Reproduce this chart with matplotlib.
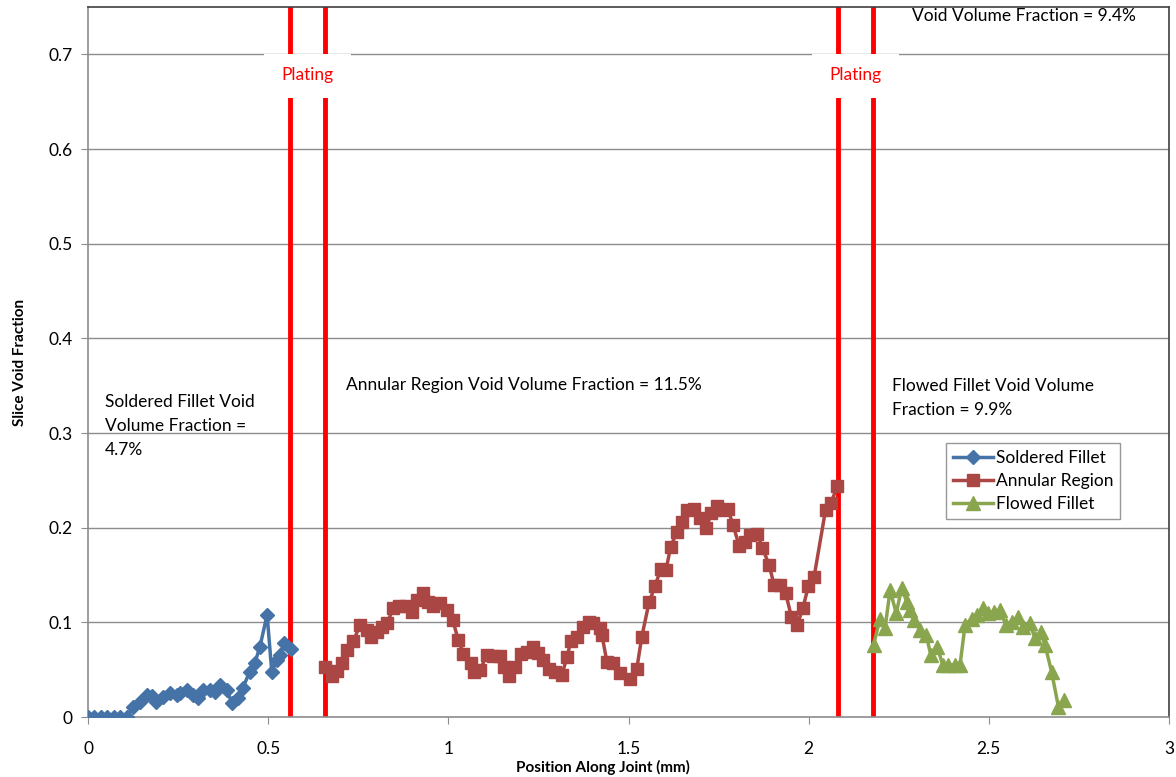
import matplotlib
matplotlib.use('Agg')
import matplotlib.pyplot as plt
from matplotlib.patches import Rectangle

# Soldered fillet series (blue diamonds)
soldered_x = [0.0, 0.018, 0.036, 0.054, 0.072, 0.09, 0.108, 0.125, 0.144, 0.163,
              0.177, 0.19, 0.208, 0.228, 0.246, 0.255, 0.274, 0.291, 0.305, 0.319,
              0.339, 0.352, 0.366, 0.386, 0.399, 0.416, 0.43, 0.449, 0.463, 0.477,
              0.497, 0.51, 0.524, 0.533, 0.544, 0.563]
soldered_y = [0.0, 0.0, 0.0, 0.0, 0.0, 0.0, 0.0, 0.011, 0.016, 0.023,
              0.022, 0.016, 0.021, 0.025, 0.023, 0.025, 0.028, 0.023, 0.02, 0.029,
              0.028, 0.026, 0.034, 0.028, 0.015, 0.02, 0.031, 0.048, 0.057, 0.074,
              0.108, 0.048, 0.06, 0.066, 0.078, 0.072]

# Annular region series (red squares)
annular_x = [0.658, 0.676, 0.692, 0.706, 0.72, 0.736, 0.755, 0.773, 0.785, 0.801,
             0.815, 0.831, 0.847, 0.864, 0.882, 0.898, 0.912, 0.931, 0.944, 0.958,
             0.977, 0.996, 1.012, 1.028, 1.042, 1.062, 1.071, 1.088, 1.107, 1.123,
             1.142, 1.155, 1.169, 1.185, 1.201, 1.217, 1.234, 1.25, 1.264, 1.278,
             1.296, 1.315, 1.329, 1.34, 1.356, 1.373, 1.389, 1.402, 1.421, 1.426,
             1.44, 1.456, 1.477, 1.504, 1.523, 1.537, 1.557, 1.574, 1.589, 1.604,
             1.617, 1.634, 1.648, 1.662, 1.682, 1.698, 1.715, 1.73, 1.746, 1.763,
             1.776, 1.79, 1.807, 1.823, 1.838, 1.858, 1.871, 1.89, 1.904, 1.921,
             1.936, 1.952, 1.968, 1.984, 1.999, 2.015, 2.047, 2.063, 2.079]
annular_y = [0.0525, 0.043, 0.049, 0.057, 0.071, 0.08, 0.097, 0.092, 0.085, 0.09,
             0.095, 0.0997, 0.115, 0.117, 0.117, 0.111, 0.124, 0.131, 0.122, 0.117,
             0.12, 0.113, 0.1025, 0.081, 0.067, 0.057, 0.048, 0.0497, 0.0655, 0.0645,
             0.064, 0.0525, 0.043, 0.053, 0.067, 0.069, 0.074, 0.068, 0.06, 0.051,
             0.048, 0.044, 0.063, 0.08, 0.085, 0.095, 0.1007, 0.099, 0.094, 0.087,
             0.0585, 0.057, 0.046, 0.04, 0.051, 0.085, 0.121, 0.1385, 0.156, 0.155,
             0.18, 0.195, 0.206, 0.219, 0.2195, 0.21, 0.1995, 0.215, 0.223, 0.219,
             0.2195, 0.203, 0.181, 0.185, 0.192, 0.193, 0.179, 0.161, 0.1395, 0.1395,
             0.131, 0.106, 0.097, 0.115, 0.138, 0.148, 0.219, 0.2265, 0.244]

# Flowed fillet series (green triangles)
flowed_x = [2.18, 2.198, 2.212, 2.226, 2.243, 2.258, 2.272, 2.281, 2.292, 2.309,
            2.326, 2.339, 2.357, 2.372, 2.388, 2.406, 2.42, 2.434, 2.453, 2.468,
            2.483, 2.497, 2.513, 2.532, 2.547, 2.563, 2.581, 2.595, 2.614, 2.628,
            2.644, 2.656, 2.674, 2.693, 2.709]
flowed_y = [0.076, 0.104, 0.094, 0.134, 0.1096, 0.136, 0.122, 0.113, 0.1025, 0.092,
            0.0867, 0.0655, 0.074, 0.055, 0.055, 0.055, 0.055, 0.097, 0.104, 0.108,
            0.115, 0.1096, 0.111, 0.113, 0.097, 0.1007, 0.106, 0.0955, 0.099, 0.083,
            0.09, 0.076, 0.048, 0.011, 0.018]

# Plating boundary lines
plating_lines = [0.561, 0.658, 2.082, 2.179]

x_ticks = [0, 0.5, 1, 1.5, 2, 2.5, 3]
x_tick_labels = ['0', '0.5', '1', '1.5', '2', '2.5', '3']
y_ticks = [0, 0.1, 0.2, 0.3, 0.4, 0.5, 0.6, 0.7]
y_tick_labels = ['0', '0.1', '0.2', '0.3', '0.4', '0.5', '0.6', '0.7']

plt.rcParams['font.family'] = ['Lato', 'DejaVu Sans']

fig = plt.figure(figsize=(11.76, 7.77), dpi=100)
ax = fig.add_axes([88 / 1176, 1 - 717 / 777, (1169 - 88) / 1176, (717 - 7) / 777])

ax.set_xlim(0, 3)
ax.set_ylim(0, 0.75)

# horizontal gridlines
for yv in y_ticks[1:]:
    ax.axhline(yv, color='#8c8c8c', lw=1.0, zorder=1)

# plating lines
for xv in plating_lines:
    ax.axvline(xv, color='#ff0000', lw=3.5, zorder=2)

# white label boxes over the plating lines
for left, right in [(plating_lines[0], plating_lines[1]), (plating_lines[2], plating_lines[3])]:
    cx = (left + right) / 2
    ax.add_patch(Rectangle((cx - 0.12, 0.6535), 0.24, 0.0465, facecolor='white',
                           edgecolor='none', zorder=3))
    ax.text(cx, 0.678, 'Plating', color='#ff0000', fontsize=12.5, ha='center',
            va='center', zorder=4)

ax.plot(soldered_x, soldered_y, color='#4572A7', lw=2.5, marker='D', ms=7.5,
        label='Soldered Fillet', zorder=5)
ax.plot(annular_x, annular_y, color='#AA4643', lw=2.5, marker='s', ms=8.5,
        label='Annular Region', zorder=5)
ax.plot(flowed_x, flowed_y, color='#89A54E', lw=2.5, marker='^', ms=9.5,
        label='Flowed Fillet', zorder=5)

ax.set_xticks(x_ticks)
ax.set_xticklabels(x_tick_labels)
ax.set_yticks(y_ticks)
ax.set_yticklabels(y_tick_labels)
ax.tick_params(direction='out', length=5, color='#8c8c8c', labelsize=12.5, pad=6)
ax.tick_params(axis='x', pad=12)

for side in ['left', 'bottom']:
    ax.spines[side].set_color('#8c8c8c')
    ax.spines[side].set_linewidth(1.2)
for side in ['top', 'right']:
    ax.spines[side].set_color('#404040')
    ax.spines[side].set_linewidth(1.2)

ax.set_ylabel('Slice Void Fraction', fontsize=11, fontweight='bold')
ax.yaxis.set_label_coords(-0.056, 0.5)
ax.set_xlabel('Position Along Joint (mm)', fontsize=11, fontweight='bold')
ax.xaxis.set_label_coords(0.476, -0.06)

# annotations
ax.text(0.047, 0.341, 'Soldered Fillet Void\nVolume Fraction =\n4.7%', fontsize=12.5,
        ha='left', va='top', linespacing=1.62)
ax.text(0.716, 0.351, 'Annular Region Void Volume Fraction = 11.5%', fontsize=12.5,
        ha='left', va='center')
ax.text(2.231, 0.358, 'Flowed Fillet Void Volume\nFraction = 9.9%', fontsize=12.5,
        ha='left', va='top', linespacing=1.62)
ax.text(2.287, 0.740, 'Void Volume Fraction = 9.4%', fontsize=12.5,
        ha='left', va='center')

leg = ax.legend(loc='upper left', bbox_to_anchor=(0.794, 0.386), fontsize=12.5,
                frameon=True, fancybox=False, borderpad=0.4, labelspacing=0.42,
                handlelength=2.3, handletextpad=0.15, borderaxespad=0)
leg.get_frame().set_edgecolor('#7f7f7f')
leg.get_frame().set_linewidth(1.0)

plt.savefig('out.png', dpi=100)
plt.close()
